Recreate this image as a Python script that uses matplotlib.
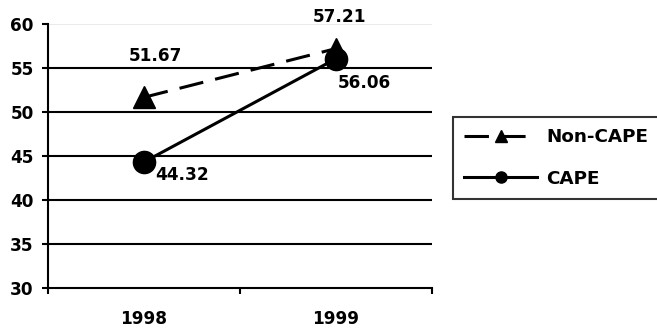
import numpy as np
import matplotlib
matplotlib.use("Agg")
from matplotlib import pyplot as plt
from matplotlib.lines import Line2D

plt.rcParams['font.family'] = ['DejaVu Sans']
plt.rcParams['font.weight'] = 'bold'
FS = 12.2

years = ['1998', '1999']
non_cape = [51.67, 57.21]
cape = [44.32, 56.06]
# label offsets in pixels (dx, dy) from each point
non_cape_off = [(11, 41), (4, 32)]
cape_off = [(38, -13), (28, -24)]

fig = plt.figure(figsize=(6.57, 3.3), dpi=100)
ax = fig.add_axes([48/657, 1-288/330, 384/657, 264/330])

x = np.arange(len(years))
ax.plot(x, non_cape, color='black', lw=2.2, linestyle=(0, (8, 4)),
        marker='^', ms=16, zorder=3)
ax.plot(x, cape, color='black', lw=2.2, marker='o', ms=16, zorder=4)

for xi, v, off in zip(x, non_cape, non_cape_off):
    ax.annotate(f'{v:.2f}', (xi, v), xytext=off, textcoords='offset pixels',
                ha='center', va='center', fontsize=FS, fontweight='bold')
for xi, v, off in zip(x, cape, cape_off):
    ax.annotate(f'{v:.2f}', (xi, v), xytext=off, textcoords='offset pixels',
                ha='center', va='center', fontsize=FS, fontweight='bold')

ax.set_xlim(-0.5, 1.5)
ax.set_ylim(30, 60)
ax.set_yticks(np.arange(30, 61, 5))
for y in range(35, 60, 5):
    ax.axhline(y, color='black', lw=1.5, zorder=1)
ax.axhline(60, color='#e6e6e6', lw=1.2, zorder=1)

ax.set_xticks(x)
ax.set_xticklabels(years)
ax.set_xticks([-0.5, 0.5, 1.5], minor=True)
ax.tick_params(axis='x', which='major', length=0, pad=16, labelsize=FS)
ax.tick_params(axis='x', which='minor', length=4, width=1.5, direction='out')
ax.tick_params(axis='y', length=4.3, width=1.5, pad=6, labelsize=FS)
for t in ax.get_xticklabels() + ax.get_yticklabels():
    t.set_fontweight('bold')

for s in ['top', 'right']:
    ax.spines[s].set_visible(False)
for s in ['left', 'bottom']:
    ax.spines[s].set_linewidth(1.5)

handles = [
    Line2D([], [], color='black', lw=2.2, linestyle=(0, (8, 4)), marker='^', ms=8),
    Line2D([], [], color='black', lw=2.2, marker='o', ms=8),
]
leg = fig.legend(handles, ['Non-CAPE', 'CAPE'], loc='upper left',
                 bbox_to_anchor=(453/657, 1-117/330), borderaxespad=0,
                 frameon=True, fancybox=False, edgecolor='black',
                 handlelength=4.0, handletextpad=0.5, borderpad=0.6,
                 labelspacing=1.29, prop={'size': 13.2, 'weight': 'bold'})
leg.get_frame().set_linewidth(1.5)

fig.savefig('out.png', dpi=100)
